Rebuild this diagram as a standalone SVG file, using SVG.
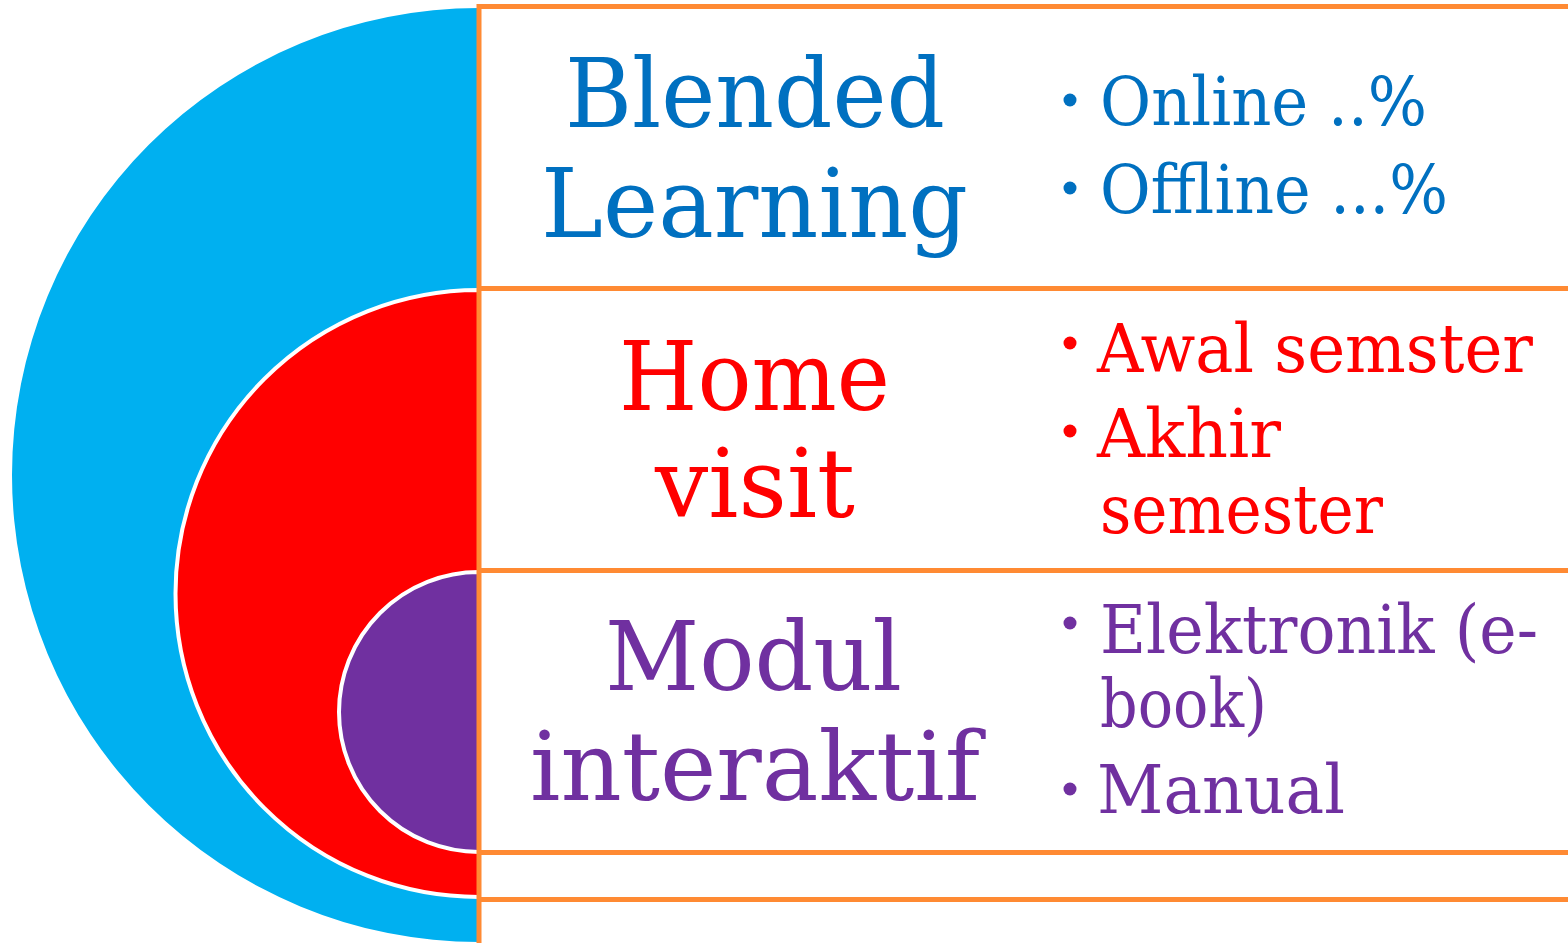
<svg xmlns="http://www.w3.org/2000/svg" width="1568" height="943" viewBox="0 0 1568 943">
<style>
.t{font-family:"DejaVu Serif","Liberation Serif",serif}
.big{font-size:96px}
.sm{font-size:68px}
.blue{fill:#0070C0}
.red{fill:#FF0000}
.pur{fill:#7030A0}
.ln{stroke:#FF8A33;stroke-width:5;fill:none}
</style>
<rect width="1568" height="943" fill="#fff"/>
<g id="shapes">
<path id="blue-arc" d="M479 8 A467 467 0 0 0 479 942 L479 943 L479 8 Z" fill="#00B0F0"/>
<path id="red-arc" d="M479 290 A303.5 303.5 0 0 0 479 897 Z" fill="#FF0000" stroke="#fff" stroke-width="4"/>
<path id="purple-arc" d="M479 572 A140 140 0 0 0 479 852 Z" fill="#7030A0" stroke="#fff" stroke-width="4"/>
</g>
<g id="connectors">
<line class="ln" x1="479" y1="4" x2="479" y2="943"/>
<line class="ln" x1="477" y1="6.5" x2="1568" y2="6.5"/>
<line class="ln" x1="479" y1="288.5" x2="1568" y2="288.5"/>
<line class="ln" x1="479" y1="570.5" x2="1568" y2="570.5"/>
<line class="ln" x1="479" y1="852.5" x2="1568" y2="852.5"/>
<line class="ln" x1="479" y1="899.5" x2="1568" y2="899.5"/>
</g>
<g id="blended">
<text class="t big blue" x="565" y="127" textLength="380" lengthAdjust="spacingAndGlyphs">Blended</text>
<text class="t big blue" x="541" y="237" textLength="427" lengthAdjust="spacingAndGlyphs">Learning</text>
<circle class="blue" cx="1070" cy="100" r="6.5"/>
<text class="t sm blue" x="1100" y="125" textLength="327" lengthAdjust="spacingAndGlyphs">Online ..%</text>
<circle class="blue" cx="1070" cy="188" r="6.5"/>
<text class="t sm blue" x="1100" y="213" textLength="348" lengthAdjust="spacingAndGlyphs">Offline ...%</text>
</g>
<g id="home">
<text class="t big red" x="619" y="410" textLength="271" lengthAdjust="spacingAndGlyphs">Home</text>
<text class="t big red" x="655" y="517" textLength="200" lengthAdjust="spacingAndGlyphs">visit</text>
<circle class="red" cx="1070" cy="343" r="6.5"/>
<text class="t sm red" x="1097" y="372" textLength="436" lengthAdjust="spacingAndGlyphs">Awal semster</text>
<circle class="red" cx="1070" cy="431" r="6.5"/>
<text class="t sm red" x="1097" y="457" textLength="184" lengthAdjust="spacingAndGlyphs">Akhir</text>
<text class="t sm red" x="1100" y="533" textLength="283" lengthAdjust="spacingAndGlyphs">semester</text>
</g>
<g id="modul">
<text class="t big pur" x="605" y="690" textLength="297" lengthAdjust="spacingAndGlyphs">Modul</text>
<text class="t big pur" x="530" y="800" textLength="450" lengthAdjust="spacingAndGlyphs">interaktif</text>
<circle class="pur" cx="1070" cy="623" r="6.5"/>
<text class="t sm pur" x="1100" y="653" textLength="438" lengthAdjust="spacingAndGlyphs">Elektronik (e-</text>
<text class="t sm pur" x="1100" y="727" textLength="167" lengthAdjust="spacingAndGlyphs">book)</text>
<circle class="pur" cx="1070" cy="789" r="6.5"/>
<text class="t sm pur" x="1097" y="813" textLength="248" lengthAdjust="spacingAndGlyphs">Manual</text>
</g>
</svg>
